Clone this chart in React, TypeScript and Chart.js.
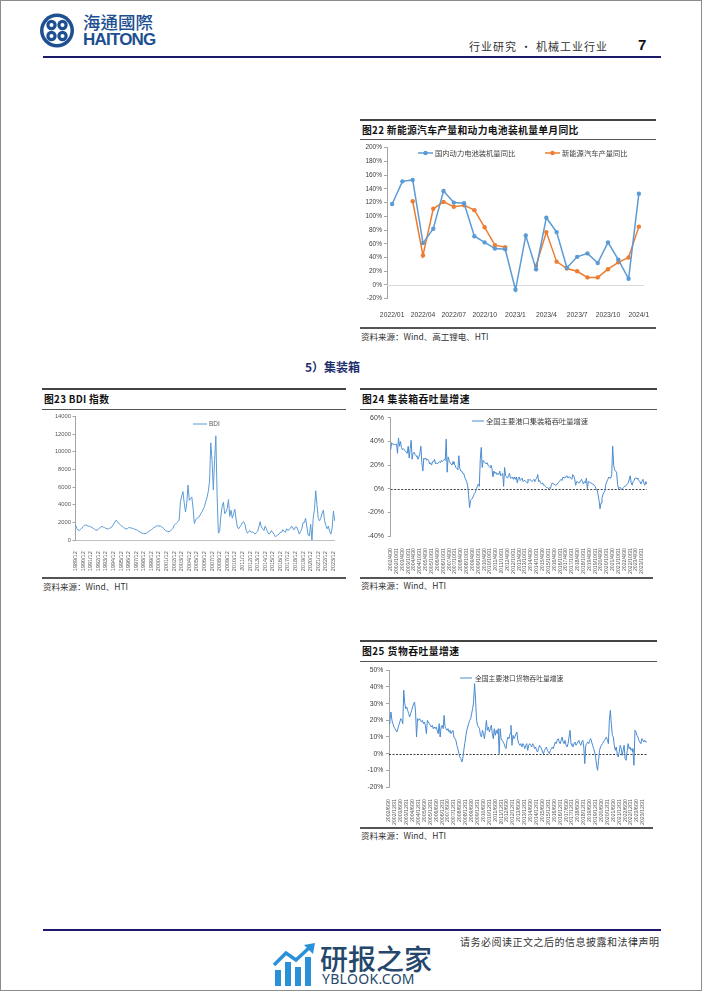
import React, { useEffect, useRef } from 'react';
import { Chart, registerables } from 'chart.js';

Chart.register(...registerables);

const CJK = '"Noto Sans CJK SC", "Noto Sans", sans-serif';
const LAT = '"Liberation Sans", Arial, sans-serif';

// ---------- 图22 新能源汽车产量和动力电池装机量单月同比 ----------
const nevMonths = ['2022/01', '2022/02', '2022/03', '2022/04', '2022/05', '2022/06', '2022/07', '2022/08', '2022/09', '2022/10', '2022/11', '2022/12', '2023/1', '2023/2', '2023/3', '2023/4', '2023/5', '2023/6', '2023/7', '2023/8', '2023/9', '2023/10', '2023/11', '2023/12', '2024/1'];
const batteryYoY = [118, 151, 153, 61, 82, 137, 120, 119, 71, 62, 53, 52, -7, 72, 23, 98, 77, 25, 41, 46, 32, 62, 37, 9, 133];
const nevOutputYoY = [null, null, 122, 43, 111, 121, 114, 116, 109, 84, 58, 55, null, null, 28, 77, 34, 24, 20, 11, 11, 23, 33, 40, 85];

// ---------- 图23 BDI 指数 (bi-monthly samples) ----------
const bdiTickLabels = ['1989/12', '1990/12', '1991/12', '1992/12', '1993/12', '1994/12', '1995/12', '1996/12', '1997/12', '1998/12', '1999/12', '2000/12', '2001/12', '2002/12', '2003/12', '2004/12', '2005/12', '2006/12', '2007/12', '2008/12', '2009/12', '2010/12', '2011/12', '2012/12', '2013/12', '2014/12', '2015/12', '2016/12', '2017/12', '2018/12', '2019/12', '2020/12', '2021/12', '2022/12', '2023/12'];
const bdiValues = [
  1730,
  1350, 1150, 1090, 1250, 1350, 1550,
  1700, 1730, 1680, 1600, 1580, 1520,
  1450, 1350, 1250, 1150, 1130, 1250,
  1350, 1500, 1580, 1480, 1430, 1350,
  1300, 1280, 1350, 1450, 1540, 1800,
  2030, 2260, 2150, 1960, 1800, 1650,
  1580, 1450, 1350, 1280, 1300, 1430,
  1430, 1380, 1350, 1300, 1250, 1200,
  1150, 1000, 950, 830, 800, 760,
  750, 800, 900, 1000, 1100, 1200,
  1300, 1450, 1500, 1600, 1650, 1600,
  1650, 1500, 1430, 1300, 1100, 1050,
  1000, 980, 1050, 1200, 1350, 1700,
  1800, 1960, 2100, 2300, 4360, 5000,
  5500, 4200, 3200, 4200, 6240, 4500,
  4700, 4900, 3600, 1900, 2300, 2480,
  2600, 2670, 3000, 3200, 3530, 3800,
  4360, 4800, 5500, 6600, 11000, 9000,
  5700, 9000, 11800, 5000, 800, 1000,
  2800, 3800, 4300, 3000, 3200, 3600,
  4600, 2700, 3400, 2500, 3000, 3500,
  2400, 1500, 1300, 1500, 1700, 2000,
  2100, 1800, 1100, 800, 1000, 1100,
  900, 950, 850, 700, 850, 1000,
  1500, 2100, 1500, 1300, 1100, 1600,
  1300, 900, 700, 800, 1100, 900,
  700, 400, 500, 600, 700, 900,
  900, 1200, 1000, 900, 1300, 1100,
  1200, 1400, 1600, 1300, 1200, 1500,
  1500, 1100, 700, 1000, 1300, 2000,
  2000, 2500, 1500, 600, 500, 1800,
  0, 2500, 3500, 5600, 4000, 2500,
  2200, 2500, 3000, 3400, 2200, 1700,
  1300, 1600, 1000, 700, 1400, 3300,
  2200,
];

// ---------- 图24 集装箱吞吐量增速 ----------
const c24TickLabels = ['2002/4/30', '2002/10/31', '2003/4/30', '2003/10/31', '2004/4/30', '2004/10/31', '2005/4/30', '2005/10/31', '2006/4/30', '2006/10/31', '2007/4/30', '2007/10/31', '2008/4/30', '2008/10/31', '2009/4/30', '2009/10/31', '2010/4/30', '2010/10/31', '2011/4/30', '2011/10/31', '2012/4/30', '2012/10/31', '2013/4/30', '2013/10/31', '2014/4/30', '2014/10/31', '2015/4/30', '2015/10/31', '2016/4/30', '2016/10/31', '2017/4/30', '2017/10/31', '2018/4/30', '2018/10/31', '2019/4/30', '2019/10/31', '2020/4/30', '2020/10/31', '2021/4/30', '2021/10/31', '2022/4/30', '2022/10/31', '2023/4/30', '2023/10/31'];
const c24Values = [
  33, 39, 38, 37, 38, 37, 38,
  30, 43, 36, 40, 35, 33, 34, 33, 32, 31, 30, 36,
  26, 34, 41, 25, 30, 31, 29, 28, 27, 25, 27, 30,
  36, 22, 15, 26, 25, 26, 24, 25, 24, 21, 22, 20,
  23, 23, 25, 21, 22, 21, 22, 23, 22, 24, 23, 24,
  25, 24, 42, 14, 27, 24, 22, 21, 20, 23, 21, 20,
  18, 17, 16, 28, 17, 15, 15, 13, 13, 10, 8, 6,
  3, -5, -16, -10, -9, -8, -6, -4, -3, 0, 2, 4,
  2, 25, 35, 18, 24, 23, 22, 21, 22, 20, 19, 18,
  20, 17, 10, 15, 13, 14, 12, 13, 12, 15, 11, 12,
  13, 2, 18, 11, 10, 9, 11, 13, 9, 9, 10, 8,
  10, 8, 10, 5, 9, 10, 7, 8, 9, 6, 7, 7,
  6, 5, 8, 7, 8, 7, 6, 7, 8, 6, 8, 9,
  12, 6, 7, 5, 4, 5, 3, 3, 2, 1, 1, 0,
  1, 0, 3, 5, 4, 4, 3, 3, 4, 5, 6, 7,
  8, 7, 10, 9, 9, 10, 11, 9, 10, 10, 9, 8,
  12, 11, 8, 3, 6, 6, 5, 5, 7, 8, 6, 4,
  6, 5, 9, 0, 6, 6, 5, 5, 4, 4, 3, 2,
  0, -1, -5, -10, -17, -12, -8, -5, -3, -2, 4, 6,
  8, 10, 9, 9, 12, 36, 20, 16, 15, 14, 4, 0,
  1, 1, -1, 0, 1, 2, 2, 3, 4, 5, 8, 11,
  5, 3, 6, 7, 9, 9, 9, 8, 7, 6, 4, 6,
  8, 5, 3, 6, 4,
];

// ---------- 图25 货物吞吐量增速 ----------
const c25TickLabels = ['2002/6/30', '2002/12/31', '2003/6/30', '2003/12/31', '2004/6/30', '2004/12/31', '2005/6/30', '2005/12/31', '2006/6/30', '2006/12/31', '2007/6/30', '2007/12/31', '2008/6/30', '2008/12/31', '2009/6/30', '2009/12/31', '2010/6/30', '2010/12/31', '2011/6/30', '2011/12/31', '2012/6/30', '2012/12/31', '2013/6/30', '2013/12/31', '2014/6/30', '2014/12/31', '2015/6/30', '2015/12/31', '2016/6/30', '2016/12/31', '2017/6/30', '2017/12/31', '2018/6/30', '2018/12/31', '2019/6/30', '2019/12/31', '2020/6/30', '2020/12/31', '2021/6/30', '2021/12/31', '2022/6/30', '2022/12/31', '2023/6/30', '2023/12/31'];
const c25Values = [
  18, 20, 25, 20, 18, 16, 15, 14, 13, 15, 17, 19,
  21, 20, 18, 38, 30, 27, 28, 26, 24, 22, 24, 26,
  28, 30, 31, 25, 10, 21, 20, 21, 20, 19, 20, 18,
  19, 17, 12, 20, 19, 18, 17, 16, 17, 15, 16, 15,
  16, 14, 12, 18, 10, 16, 17, 15, 23, 16, 15, 14,
  15, 13, 14, 12, 13, 14, 10, 9, 8, 5, 3, 0,
  -2, -3, -5, -3, 2, 6, 10, 14, 16, 18, 20, 21,
  24, 27, 31, 42, 32, 20, 17, 16, 15, 11, 10, 14,
  12, 9, 14, 20, 14, 16, 13, 15, 17, 12, 9, 15,
  11, 14, 12, 15, 0, 15, 9, 8, 7, 6, 4, 3,
  8, 10, 9, 12, 17, 5, 11, 9, 10, 12, 13, 8,
  6, 5, 6, 4, 6, 5, 3, 5, 6, 2, 5, 6,
  5, 4, 6, 5, 3, 4, 2, 1, 3, 5, 4, 3,
  1, 0, 2, 3, 4, 2, 1, 0, 2, 3, 4, 3,
  5, 7, 6, 8, 9, 7, 6, 8, 10, 7, 6, 8,
  5, 4, 6, 10, 14, 6, 5, 4, 6, 7, 5, 6,
  7, 8, 6, 5, 7, 8, 4, -6, 5, 6, 7, 6,
  8, 9, 7, 5, 3, 1, -2, -7, -10, -4, 2, 4,
  5, 6, 7, 8, 9, 10, 8, 6, 20, 26, 18, 11,
  10, 5, 2, 4, 0, -2, 1, 5, 3, -1, 2, 5,
  -3, -4, 1, 6, 3, 4, 2, 3, 1, -7, 14, 13,
  11, 10, 8, 7, 6, 9, 8, 7, 8, 7, 7,
];

const bdiCategories = bdiValues.map((_, i) => (i % 6 === 0 ? bdiTickLabels[i / 6] || '' : ''));
const c24Categories = c24Values.map((_, i) => (i % 6 === 0 ? c24TickLabels[i / 6] || '' : ''));
const c25Categories = c25Values.map((_, i) => (i % 6 === 0 ? c25TickLabels[i / 6] || '' : ''));

// ---------- plugins ----------
type LegendItem = { ds: number; x: number; y: number; len: number; r?: number; lw: number; gap: number; font: string; color: string };

function makeLegend(items: LegendItem[]) {
  return {
    id: 'lineLegend',
    afterDraw(chart: any) {
      const ctx = chart.ctx;
      items.forEach((it) => {
        const ds = chart.data.datasets[it.ds];
        const c = ds.borderColor;
        ctx.save();
        ctx.strokeStyle = c;
        ctx.lineWidth = it.lw;
        ctx.beginPath();
        ctx.moveTo(it.x, it.y);
        ctx.lineTo(it.x + it.len, it.y);
        ctx.stroke();
        if (it.r) {
          ctx.fillStyle = c;
          ctx.beginPath();
          ctx.arc(it.x + it.len / 2, it.y, it.r, 0, Math.PI * 2);
          ctx.fill();
        }
        ctx.fillStyle = it.color;
        ctx.font = it.font;
        ctx.textBaseline = 'middle';
        ctx.textAlign = 'left';
        ctx.fillText(ds.label, it.x + it.len + it.gap, it.y);
        ctx.restore();
      });
    },
  };
}

function makeZeroLine(color: string, width: number, dash: number[]) {
  return {
    id: 'zeroLine',
    beforeDatasetsDraw(chart: any) {
      const { ctx, chartArea, scales } = chart;
      const y = Math.round(scales.y.getPixelForValue(0)) + 0.5;
      ctx.save();
      ctx.strokeStyle = color;
      ctx.lineWidth = width;
      ctx.setLineDash(dash);
      ctx.beginPath();
      ctx.moveTo(chartArea.left, y);
      ctx.lineTo(chartArea.right, y);
      ctx.stroke();
      ctx.restore();
    },
  };
}

function ChartCanvas({ left, top, width, height, build }: { left: number; top: number; width: number; height: number; build: () => any }) {
  const ref = useRef<HTMLCanvasElement>(null);
  useEffect(() => {
    const chart = new Chart(ref.current as HTMLCanvasElement, build());
    return () => chart.destroy();
  }, []);
  return <canvas ref={ref} width={width} height={height} style={{ position: 'absolute', left, top, width, height }} />;
}

const yAxisBase = (w: number, pad: number, size: number) => ({
  grid: { display: true, drawOnChartArea: false, drawTicks: true, tickLength: 3, color: '#a6a6a6' },
  border: { display: true, color: '#a6a6a6', width: 1 },
  afterFit: (s: any) => {
    s.width = w;
  },
  ticks: { padding: pad, color: '#404040', font: { family: LAT, size } },
});

// ---------- chart configs ----------
const buildNev = () => ({
  type: 'line',
  data: {
    labels: nevMonths,
    datasets: [
      { label: '国内动力电池装机量同比', data: batteryYoY, borderColor: '#5b9bd5', backgroundColor: '#5b9bd5', borderWidth: 1.5, pointRadius: 2.2, pointBorderWidth: 0, pointBackgroundColor: '#5b9bd5', tension: 0 },
      { label: '新能源汽车产量同比', data: nevOutputYoY, borderColor: '#ed7d31', backgroundColor: '#ed7d31', borderWidth: 1.5, pointRadius: 2.2, pointBorderWidth: 0, pointBackgroundColor: '#ed7d31', tension: 0 },
    ],
  },
  options: {
    responsive: false,
    animation: false,
    devicePixelRatio: 1,
    layout: { padding: { left: 0, right: 12, top: 7.7, bottom: 0 } },
    plugins: { legend: { display: false }, tooltip: { enabled: false } },
    scales: {
      x: {
        offset: true,
        grid: { display: false },
        border: { display: false },
        afterFit: (s: any) => {
          s.height = 23.3;
        },
        ticks: {
          autoSkip: false,
          maxRotation: 0,
          minRotation: 0,
          padding: 4,
          color: '#404040',
          font: { family: LAT, size: 6.8 },
          callback: (_v: any, i: number) => (i % 3 === 0 ? nevMonths[i] : ''),
        },
      },
      y: {
        ...yAxisBase(27, 2, 6.5),
        min: -20,
        max: 200,
        ticks: { ...yAxisBase(27, 2, 6.5).ticks, stepSize: 20, callback: (v: any) => v + '%' },
      },
    },
  },
  plugins: [
    makeZeroLine('#d9d9d9', 1, []),
    makeLegend([
      { ds: 0, x: 58, y: 13, len: 15, r: 2.2, lw: 1.5, gap: 2, font: `7.3px ${CJK}`, color: '#404040' },
      { ds: 1, x: 185, y: 13, len: 15, r: 2.2, lw: 1.5, gap: 2, font: `7.3px ${CJK}`, color: '#404040' },
    ]),
  ],
});

const buildBdi = () => ({
  type: 'line',
  data: {
    labels: bdiCategories,
    datasets: [{ label: 'BDI', data: bdiValues, borderColor: '#5b9bd5', borderWidth: 1, pointRadius: 0, tension: 0 }],
  },
  options: {
    responsive: false,
    animation: false,
    devicePixelRatio: 1,
    layout: { padding: { left: 0, right: 11.3, top: 6.3, bottom: 0 } },
    plugins: { legend: { display: false }, tooltip: { enabled: false } },
    scales: {
      x: {
        grid: { display: false },
        border: { display: true, color: '#bfbfbf' },
        afterFit: (s: any) => {
          s.height = 31.7;
        },
        ticks: { autoSkip: false, minRotation: 90, maxRotation: 90, padding: 3, color: '#595959', font: { family: LAT, size: 5.5 } },
      },
      y: {
        ...yAxisBase(33.5, 1.5, 5.8),
        min: 0,
        max: 14000,
        ticks: { ...yAxisBase(33.5, 1.5, 5.8).ticks, color: '#595959', stepSize: 2000, callback: (v: any) => String(v) },
      },
    },
  },
  plugins: [makeLegend([{ ds: 0, x: 151, y: 14, len: 14, lw: 1, gap: 2, font: `6.5px ${LAT}`, color: '#595959' }])],
});

const buildGrowth = (labels: string[], values: number[], label: string, yMin: number, yMax: number, step: number, yw: number, ypad: number, ysize: number, padRight: number, padTop: number, xh: number, leg: LegendItem) => ({
  type: 'line',
  data: {
    labels,
    datasets: [{ label, data: values, borderColor: '#4a8bd0', borderWidth: 1, pointRadius: 0, tension: 0 }],
  },
  options: {
    responsive: false,
    animation: false,
    devicePixelRatio: 1,
    layout: { padding: { left: 0, right: padRight, top: padTop, bottom: 0 } },
    plugins: { legend: { display: false }, tooltip: { enabled: false } },
    scales: {
      x: {
        grid: { display: false },
        border: { display: false },
        afterFit: (s: any) => {
          s.height = xh;
        },
        ticks: { autoSkip: false, minRotation: 90, maxRotation: 90, padding: 4, color: '#595959', font: { family: LAT, size: 5.2 } },
      },
      y: {
        ...yAxisBase(yw, ypad, ysize),
        min: yMin,
        max: yMax,
        ticks: { ...yAxisBase(yw, ypad, ysize).ticks, stepSize: step, callback: (v: any) => v + '%' },
      },
    },
  },
  plugins: [makeZeroLine('#404040', 1.2, [2, 1.5]), makeLegend([leg])],
});

const buildC24 = () =>
  buildGrowth(c24Categories, c24Values, '全国主要港口集装箱吞吐量增速', -40, 60, 20, 30.7, 3.7, 7, 3, 7, 41, {
    ds: 0, x: 112, y: 11, len: 12, lw: 1, gap: 2, font: `7.3px ${CJK}`, color: '#404040',
  });

const buildC25 = () =>
  buildGrowth(c25Categories, c25Values, '全国主要港口货物吞吐量增速', -20, 50, 10, 29, 2.7, 6.8, 6, 9.3, 38, {
    ds: 0, x: 100, y: 17, len: 12, lw: 1, gap: 3, font: `6.8px ${CJK}`, color: '#404040',
  });

// ---------- layout helpers ----------
const Bar = ({ x, y, w, h, c }: { x: number; y: number; w: number; h: number; c: string }) => (
  <div style={{ position: 'absolute', left: x, top: y, width: w, height: h, background: c }} />
);

const Txt = ({ x, y, size, children, color = '#222', weight = 400, family = CJK, ls = 0 }: any) => (
  <div
    style={{
      position: 'absolute',
      left: x,
      top: y - size * 0.65,
      fontSize: size,
      lineHeight: `${size * 1.3}px`,
      color,
      fontWeight: weight,
      fontFamily: family,
      letterSpacing: ls,
      whiteSpace: 'nowrap',
    }}
  >
    {children}
  </div>
);

export default function App() {
  return (
    <div style={{ position: 'absolute', left: 0, top: 0, width: 702, height: 991, background: '#fff', overflow: 'hidden', fontFamily: CJK }}>
      {/* header logo */}
      <svg style={{ position: 'absolute', left: 39, top: 12 }} width={36} height={37} viewBox="0 0 36 37">
        <circle cx={18} cy={18.5} r={17} fill="#1d4f91" />
        <circle cx={18} cy={18.5} r={13.5} fill="#fff" />
        <circle cx={12.5} cy={13} r={5.2} fill="#1d4f91" />
        <circle cx={23.5} cy={13} r={5.2} fill="#1d4f91" />
        <circle cx={12.5} cy={24} r={5.2} fill="#1d4f91" />
        <circle cx={23.5} cy={24} r={5.2} fill="#1d4f91" />
        <circle cx={12.5} cy={13} r={2} fill="#fff" />
        <circle cx={23.5} cy={13} r={2} fill="#fff" />
        <circle cx={12.5} cy={24} r={2} fill="#fff" />
        <circle cx={23.5} cy={24} r={2} fill="#fff" />
        <circle cx={18} cy={18.5} r={2.2} fill="#fff" />
      </svg>
      <Txt x={83} y={22} size={17.5} color="#1d4f91" weight={500} family={'"Noto Sans CJK TC", "Noto Sans CJK SC", sans-serif'}>海通國際</Txt>
      <Txt x={83} y={40.5} size={17} color="#1d4f91" weight={700} family={LAT} ls={-0.8}>HAITONG</Txt>
      <Txt x={469} y={46} size={11} color="#333" ls={1}>行业研究 • 机械工业行业</Txt>
      <Txt x={638} y={44.5} size={15} color="#111" weight={700} family={LAT}>7</Txt>
      <Bar x={43} y={56} w={618} h={2} c="#1b1a6b" />

      {/* 图22 */}
      <Bar x={360} y={119} w={296} h={2} c="#444" />
      <Txt x={362} y={130} size={9.8} weight={700} color="#111" ls={0.3}>图22 新能源汽车产量和动力电池装机量单月同比</Txt>
      <Bar x={360} y={139} w={296} h={1} c="#555" />
      <ChartCanvas left={360} top={140} width={296} height={182} build={buildNev} />
      <Bar x={360} y={327} w={296} h={2} c="#555" />
      <Txt x={361} y={337} size={8.5} color="#333">资料来源：Wind、高工锂电、HTI</Txt>

      {/* section heading */}
      <Txt x={305} y={367} size={12} weight={700} color="#1f2f6e">5）集装箱</Txt>

      {/* 图23 */}
      <Bar x={42} y={388} w={304} h={2} c="#444" />
      <Txt x={44} y={399.5} size={9.8} weight={700} color="#111" ls={0.3}>图23 BDI 指数</Txt>
      <Bar x={42} y={408.5} w={304} h={1} c="#555" />
      <ChartCanvas left={42} top={410} width={304} height={162} build={buildBdi} />
      <Bar x={42} y={577} w={304} h={2} c="#555" />
      <Txt x={43} y={587} size={8.5} color="#333">资料来源：Wind、HTI</Txt>

      {/* 图24 */}
      <Bar x={360} y={388} w={297} h={2} c="#444" />
      <Txt x={362} y={399.5} size={9.8} weight={700} color="#111" ls={0.5}>图24 集装箱吞吐量增速</Txt>
      <Bar x={360} y={408.5} w={297} h={1} c="#555" />
      <ChartCanvas left={360} top={410} width={297} height={167} build={buildC24} />
      <Bar x={360} y={577} w={293} h={2} c="#555" />
      <Txt x={361} y={586} size={8.5} color="#333">资料来源：Wind、HTI</Txt>

      {/* 图25 */}
      <Bar x={360} y={640} w={297} h={2} c="#444" />
      <Txt x={362} y={651} size={9.8} weight={700} color="#111" ls={0.5}>图25 货物吞吐量增速</Txt>
      <Bar x={360} y={660.5} w={297} h={1} c="#555" />
      <ChartCanvas left={360} top={661} width={297} height={164} build={buildC25} />
      <Bar x={360} y={827} w={293} h={2} c="#555" />
      <Txt x={361} y={836} size={8.5} color="#333">资料来源：Wind、HTI</Txt>

      {/* footer */}
      <Bar x={43} y={929} w={618} h={2} c="#1b1a6b" />
      <Txt x={460} y={941} size={10} color="#333" ls={0.5}>请务必阅读正文之后的信息披露和法律声明</Txt>
      <svg style={{ position: 'absolute', left: 273, top: 943 }} width={44} height={43} viewBox="0 0 44 43">
        <rect x={2} y={27} width={6} height={16} fill="#2a90d8" />
        <rect x={12} y={19} width={6} height={24} fill="#2a90d8" />
        <rect x={22} y={24} width={6} height={19} fill="#2a90d8" />
        <rect x={32} y={14} width={6} height={29} fill="#2a90d8" />
        <polyline points="1,22 13,10 23,17 37,4" fill="none" stroke="#2a90d8" strokeWidth={3.5} />
        <polygon points="31,2 42,0 40,11" fill="#2a90d8" />
      </svg>
      <Txt x={320} y={958} size={28} color="#24476b" weight={500}>研报之家</Txt>
      <Txt x={322} y={979} size={14} color="#24476b" family={'"Noto Sans", sans-serif'} ls={0.3}>YBLOOK.COM</Txt>

      {/* page frame */}
      <div style={{ position: 'absolute', left: 0, top: 0, width: 702, height: 991, boxSizing: 'border-box', border: '1px solid #8c8c8c', pointerEvents: 'none' }} />
    </div>
  );
}
